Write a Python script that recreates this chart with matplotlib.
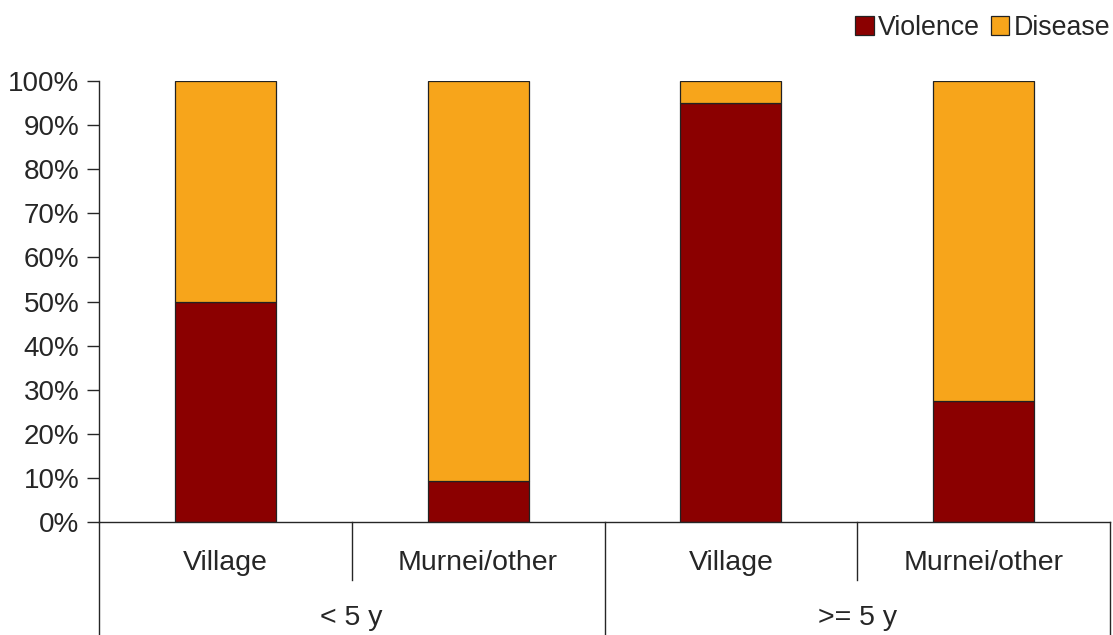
import matplotlib
matplotlib.use('Agg')
import matplotlib.pyplot as plt
import matplotlib.transforms as mtransforms
import numpy as np

# ── Data ──────────────────────────────────────────────────
places   = ['Village', 'Murnei/other', 'Village', 'Murnei/other']
groups   = ['< 5 y', '>= 5 y']
violence = [50.0, 9.3, 95.0, 27.4]
disease  = [100 - v for v in violence]

C_VIOL = '#8B0000'
C_DIS  = '#F7A51B'
C_TXT  = '#262626'
C_EDGE = '#222222'

plt.rcParams['font.family'] = ['Liberation Sans', 'DejaVu Sans']

fig = plt.figure(figsize=(11.13, 6.35), dpi=100)
ax  = fig.add_axes([99/1113, 113/635, 1011/1113, 441/635])

x = np.arange(len(places))
ax.bar(x, violence, width=0.4, color=C_VIOL, edgecolor=C_EDGE,
       linewidth=0.9, label='Violence')
ax.bar(x, disease, width=0.4, bottom=violence, color=C_DIS,
       edgecolor=C_EDGE, linewidth=0.9, label='Disease')

ax.set_xlim(-0.5, len(places) - 0.5)
ax.set_ylim(0, 100)
ax.set_yticks(np.arange(0, 101, 10))
ax.set_yticklabels([f'{v}%' for v in range(0, 101, 10)])
ax.tick_params(axis='y', length=9, width=1, color=C_TXT,
               labelsize=20, labelcolor=C_TXT, pad=5)
ax.set_xticks([])
for s in ['top', 'right']:
    ax.spines[s].set_visible(False)
for s in ['left', 'bottom']:
    ax.spines[s].set_color(C_TXT)
    ax.spines[s].set_linewidth(1)

# ── Multi-level category axis ─────────────────────────────
trans = mtransforms.blended_transform_factory(ax.transData, ax.transAxes)
y_short = -58 / 441
y_long  = -113 / 441
for i in range(len(places) + 1):
    xb  = i - 0.5
    y_e = y_long if i % 2 == 0 else y_short
    ax.plot([xb, xb], [0, y_e], transform=trans, color=C_TXT,
            linewidth=1, clip_on=False)
for i, p in enumerate(places):
    ax.text(i, -41 / 441, p, transform=trans, ha='center', va='center',
            fontsize=20.5, color=C_TXT)
for g, name in enumerate(groups):
    ax.text(2 * g + 0.5, -96 / 441, name, transform=trans,
            ha='center', va='center', fontsize=20.5, color=C_TXT)

# ── Legend ────────────────────────────────────────────────
fig.legend(loc='upper right', bbox_to_anchor=(1.019, 1.015), ncol=2,
           frameon=False, fontsize=19.3, handlelength=0.7,
           handleheight=0.7, handletextpad=0.15, columnspacing=0.4,
           labelcolor=C_TXT)

fig.savefig('out.png', dpi=100)
